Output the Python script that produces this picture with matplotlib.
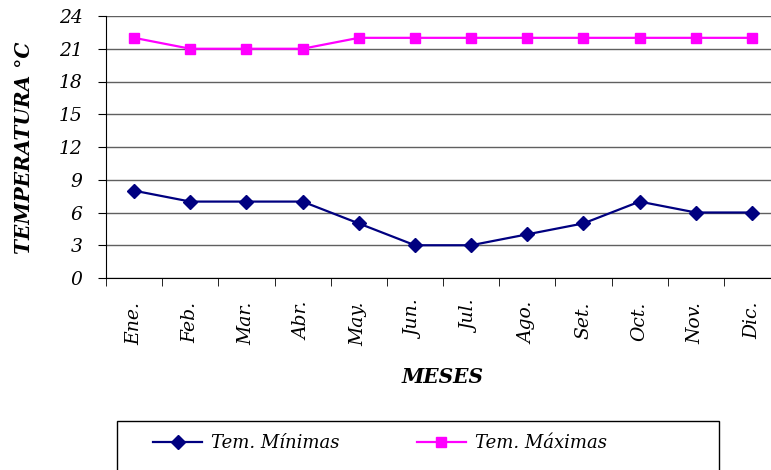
import matplotlib
matplotlib.use("Agg")
import matplotlib.pyplot as plt
from matplotlib.patches import Rectangle

meses = ["Ene.", "Feb.", "Mar.", "Abr.", "May.", "Jun.", "Jul.", "Ago.", "Set.", "Oct.", "Nov.", "Dic."]
t_min = [8, 7, 7, 7, 5, 3, 3, 4, 5, 7, 6, 6]
t_max = [22, 21, 21, 21, 22, 22, 22, 22, 22, 22, 22, 22]
yticks = [0, 3, 6, 9, 12, 15, 18, 21, 24]

W, H = 771, 470
fig = plt.figure(figsize=(W / 100, H / 100), dpi=100)
plt.rcParams['font.family'] = ['DejaVu Serif']

left, right, top, bottom = 106, 780, 16, 278
ax = fig.add_axes([left / W, 1 - bottom / H, (right - left) / W, (bottom - top) / H])

x = list(range(len(meses)))
ax.plot(x, t_min, color="#000080", marker="D", markersize=7, linewidth=1.6, label="Tem. Mínimas")
ax.plot(x, t_max, color="#FF00FF", marker="s", markersize=7, linewidth=1.6, label="Tem. Máximas")

ax.set_xlim(-0.5, len(meses) - 0.5)
ax.set_ylim(0, 24)
ax.set_yticks(yticks)
ax.set_yticklabels([str(v) for v in yticks], fontsize=13.5, style="italic")
ax.set_xticks(x)
ax.set_xticklabels(meses, rotation=90, fontsize=13.5, style="italic")
ax.tick_params(axis="x", which="major", length=0, pad=17)
ax.set_xticks([i - 0.5 for i in range(len(meses) + 1)], minor=True)
ax.tick_params(axis="x", which="minor", length=6, direction="out", color="black")
ax.tick_params(axis="y", length=6, direction="out", color="black", pad=11)

ax.yaxis.grid(True, color="#606060", linewidth=1)
ax.set_axisbelow(True)
for s in ["top", "right"]:
    ax.spines[s].set_visible(False)
ax.spines["left"].set_color("black")
ax.spines["bottom"].set_color("black")

fig.text(24 / W, 1 - 148 / H, "TEMPERATURA °C", rotation=90, ha="center", va="center",
         fontsize=14.5, fontweight="bold", style="italic")
fig.text(443 / W, 1 - 377 / H, "MESES", ha="center", va="center",
         fontsize=14.5, fontweight="bold", style="italic")

# legend box
fig.patches.append(Rectangle((117 / W, -0.05), (719 - 117) / W, (1 - 421 / H) + 0.05,
                             transform=fig.transFigure, facecolor="white",
                             edgecolor="black", linewidth=1))
handles, labels = ax.get_legend_handles_labels()
leg = fig.legend(handles, labels, loc="center", bbox_to_anchor=(380 / W, 1 - 443 / H),
                 ncol=2, frameon=False, prop={"style": "italic", "size": 13},
                 handlelength=2.7, columnspacing=4.3, handletextpad=0.5)

fig.savefig("out.png", dpi=100)
